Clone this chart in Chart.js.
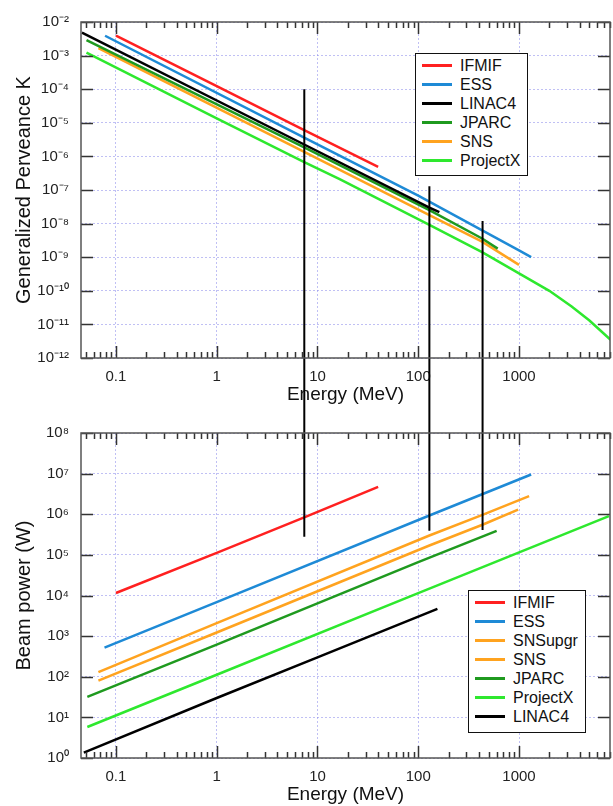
<!DOCTYPE html>
<html>
<head>
<meta charset="utf-8">
<script src="https://cdn.jsdelivr.net/npm/chart.js@4.4.0/dist/chart.umd.min.js"></script>
<style>
  body { margin: 0; background: #fff; font-family: "Liberation Sans", Arial, sans-serif; }
  #wrap { position: relative; width: 613px; height: 806px; overflow: hidden; }
  canvas { position: absolute; left: 0; }
  #perveanceChart { top: 0; }
  #powerChart { top: 412px; }
  .legend { position: absolute; border: 1.5px solid #111; background: #fff; box-sizing: border-box; padding-top: 2px; }
  .legend .row { height: 19px; display: flex; align-items: center; font-size: 16px; color: #111; }
  .legend .swatch { width: 30px; height: 3px; margin-left: 6px; margin-right: 8px; }
  #legendTop { left: 415px; top: 53px; width: 113px; height: 123px; }
  #legendBottom { left: 468px; top: 590px; width: 118px; height: 143px; }
</style>
</head>
<body>
<div id="wrap">
  <canvas id="perveanceChart" width="613" height="412"></canvas>
  <canvas id="powerChart" width="613" height="394"></canvas>
  <div class="legend" id="legendTop"></div>
  <div class="legend" id="legendBottom"></div>
</div>
<script>
// axis ranges and tick labels
const energyMin = 0.045, energyMax = 8000;
const energyTicks = [0.1, 1, 10, 100, 1000];
const perveanceTicks = [1e-12, 1e-11, 1e-10, 1e-9, 1e-8, 1e-7, 1e-6, 1e-5, 1e-4, 1e-3, 1e-2];
const powerTicks = [1e0, 1e1, 1e2, 1e3, 1e4, 1e5, 1e6, 1e7, 1e8];

// top panel: generalized perveance K vs energy (MeV)
const kIFMIF_E = [0.1, 1, 7.3, 40];
const kIFMIF = [3.9e-3, 1.23e-4, 6.2e-6, 4.9e-7];
const kESS_E = [0.078, 7.3, 100, 1000, 1320];
const kESS = [3.9e-3, 3.7e-6, 6.8e-8, 1.6e-9, 1.0e-9];
const kLINAC4_E = [0.046, 7.3, 129, 162];
const kLINAC4 = [4.8e-3, 2.3e-6, 3.0e-8, 2.2e-8];
const kJPARC_E = [0.051, 7.3, 129, 430, 615];
const kJPARC = [2.9e-3, 1.9e-6, 2.5e-8, 3.6e-9, 1.8e-9];
const kSNS_E = [0.067, 7.3, 129, 430, 1000];
const kSNS = [1.66e-3, 1.38e-6, 1.8e-8, 2.9e-9, 5.9e-10];
const kProjectX_E = [0.051, 1, 7.3, 16.6, 129, 430, 1000, 2000, 3330, 5000, 8100];
const kProjectX = [1.23e-3, 1.35e-5, 6.9e-7, 2.1e-7, 9.1e-9, 1.41e-9, 3.3e-10, 1.0e-10, 3.4e-11, 1.3e-11, 3.5e-12];

// bottom panel: beam power (W) vs energy (MeV)
const pIFMIF_E = [0.1, 1, 7.6, 40];
const pIFMIF = [1.15e4, 1.12e5, 8.6e5, 4.7e6];
const pESS_E = [0.077, 1, 129, 1320];
const pESS = [5.2e2, 6.9e3, 9.3e5, 9.5e6];
const pSNSupgr_E = [0.067, 1, 129, 440, 1260];
const pSNSupgr = [1.3e2, 2.1e3, 3.0e5, 9.8e5, 2.8e6];
const pSNS_E = [0.067, 1, 129, 440, 980];
const pSNS = [80, 1.23e3, 1.7e5, 5.6e5, 1.3e6];
const pJPARC_E = [0.052, 1, 100, 600];
const pJPARC = [32, 6.2e2, 6.6e4, 3.9e5];
const pProjectX_E = [0.052, 1, 100, 7800];
const pProjectX = [5.8, 1.12e2, 1.15e4, 9.0e5];
const pLINAC4_E = [0.048, 1, 10, 155];
const pLINAC4 = [1.35, 30, 3.0e2, 4.7e3];

// vertical marker lines running through both panels
const markerEnergy = [7.4, 129, 435];
const markerTopK = [1e-4, 1.3e-7, 1.2e-8];
const markerLowP = [2.8e5, 3.9e5, 4.1e5];

const seriesColor = {
  IFMIF: '#ff2020', ESS: '#1e8ad6', LINAC4: '#000000', JPARC: '#1f9a1f',
  SNS: '#ffa31f', SNSupgr: '#ffa31f', ProjectX: '#2ee82e'
};

const sup = { '0': '⁰', '1': '¹', '2': '²', '3': '³', '4': '⁴', '5': '⁵', '6': '⁶', '7': '⁷', '8': '⁸', '9': '⁹', '-': '⁻' };
const decadeLabel = v => '10' + String(Math.round(Math.log10(v))).split('').map(c => sup[c]).join('');

const pts = (xs, ys) => xs.map((x, i) => ({ x: x, y: ys[i] }));

function series(name, xs, ys) {
  return { label: name, data: pts(xs, ys), borderColor: seriesColor[name], borderWidth: 2.5,
           pointRadius: 0, fill: false, tension: 0, order: 1 };
}

// frame plus inward tick marks on all four sides
const frameTicks = {
  id: 'frameTicks',
  afterDatasetsDraw(chart) {
    const { ctx, chartArea: a, scales: { x, y } } = chart;
    ctx.save();
    ctx.strokeStyle = '#333';
    ctx.lineWidth = 1.5;
    ctx.beginPath();
    for (let d = -2; d <= 4; d++) {
      for (let m = 1; m <= 9; m++) {
        const v = m * Math.pow(10, d);
        if (v < x.min || v > x.max) continue;
        const px = Math.round(x.getPixelForValue(v)) + 0.5, len = m === 1 ? 12 : 6;
        ctx.moveTo(px, a.bottom); ctx.lineTo(px, a.bottom - len);
        ctx.moveTo(px, a.top); ctx.lineTo(px, a.top + len);
      }
    }
    y.ticks.forEach(t => {
      const py = Math.round(y.getPixelForValue(t.value)) + 0.5;
      ctx.moveTo(a.left, py); ctx.lineTo(a.left + 12, py);
      ctx.moveTo(a.right, py); ctx.lineTo(a.right - 12, py);
    });
    ctx.stroke();
    ctx.strokeStyle = '#555';
    ctx.lineWidth = 1.5;
    ctx.strokeRect(a.left, a.top, a.width, a.height);
    ctx.restore();
  }
};

function makeChart(id, datasets, o) {
  return new Chart(document.getElementById(id), {
    type: 'line',
    data: { datasets: datasets },
    options: {
      responsive: false,
      animation: false,
      layout: { padding: { left: 0, right: 3, top: o.top, bottom: 0 } },
      plugins: { legend: { display: false }, tooltip: { enabled: false } },
      scales: {
        x: {
          type: 'logarithmic', min: energyMin, max: energyMax,
          afterBuildTicks: s => { s.ticks = energyTicks.map(v => ({ value: v })); },
          afterFit: s => { s.height = o.xHeight; },
          ticks: { autoSkip: false, maxRotation: 0, padding: 10, color: '#222',
                   font: { size: 15, family: 'Liberation Sans' }, callback: v => String(v) },
          grid: { color: 'rgba(140,140,235,0.55)', lineWidth: 1, drawTicks: false },
          border: { display: false, dash: [2, 2] },
          title: { display: true, text: 'Energy (MeV)', color: '#111',
                   font: { size: 19, family: 'Liberation Sans' }, padding: { top: 0, bottom: o.titlePad } }
        },
        y: {
          type: 'logarithmic', min: o.yTicks[0], max: o.yTicks[o.yTicks.length - 1],
          afterBuildTicks: s => { s.ticks = o.yTicks.map(v => ({ value: v })); },
          afterFit: s => { s.width = 81; },
          ticks: { autoSkip: false, padding: 12, color: '#222',
                   font: { size: 15, family: 'Liberation Sans' }, callback: v => decadeLabel(v) },
          grid: { color: 'rgba(140,140,235,0.55)', lineWidth: 1, drawTicks: false },
          border: { display: false, dash: [2, 2] },
          title: { display: true, text: o.yTitle, color: '#111',
                   font: { size: 20, family: 'Liberation Sans' }, padding: { top: 12 } }
        }
      }
    },
    plugins: [frameTicks]
  });
}

function markers(ends, farValue) {
  return markerEnergy.map((e, i) => ({
    data: [{ x: e, y: ends[i] }, { x: e, y: farValue }],
    borderColor: '#000', borderWidth: 2, pointRadius: 0, clip: false, order: -1
  }));
}

makeChart('perveanceChart', [
  series('IFMIF', kIFMIF_E, kIFMIF),
  series('ESS', kESS_E, kESS),
  series('LINAC4', kLINAC4_E, kLINAC4),
  series('JPARC', kJPARC_E, kJPARC),
  series('SNS', kSNS_E, kSNS),
  series('ProjectX', kProjectX_E, kProjectX)
].concat(markers(markerTopK, 1e-20)), {
  top: 22, xHeight: 54, titlePad: 6, yTicks: perveanceTicks, yTitle: 'Generalized Perveance K'
});

makeChart('powerChart', [
  series('IFMIF', pIFMIF_E, pIFMIF),
  series('ESS', pESS_E, pESS),
  series('SNSupgr', pSNSupgr_E, pSNSupgr),
  series('SNS', pSNS_E, pSNS),
  series('JPARC', pJPARC_E, pJPARC),
  series('ProjectX', pProjectX_E, pProjectX),
  series('LINAC4', pLINAC4_E, pLINAC4)
].concat(markers(markerLowP, 1e20)), {
  top: 11, xHeight: 48, titlePad: 0, yTicks: powerTicks, yTitle: 'Beam power (W)'
});

function buildLegend(id, names) {
  const box = document.getElementById(id);
  names.forEach(n => {
    const row = document.createElement('div');
    row.className = 'row';
    const sw = document.createElement('span');
    sw.className = 'swatch';
    sw.style.background = seriesColor[n];
    const tx = document.createElement('span');
    tx.textContent = n;
    row.appendChild(sw);
    row.appendChild(tx);
    box.appendChild(row);
  });
}
buildLegend('legendTop', ['IFMIF', 'ESS', 'LINAC4', 'JPARC', 'SNS', 'ProjectX']);
buildLegend('legendBottom', ['IFMIF', 'ESS', 'SNSupgr', 'SNS', 'JPARC', 'ProjectX', 'LINAC4']);
</script>
</body>
</html>
